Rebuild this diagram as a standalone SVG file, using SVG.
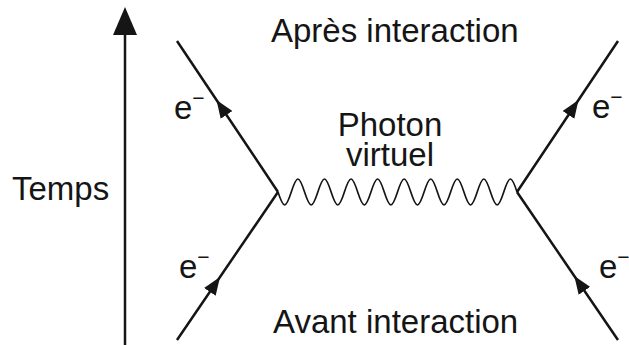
<svg xmlns="http://www.w3.org/2000/svg" width="629" height="345" viewBox="0 0 629 345">
<style>
  .t { font-family: "Liberation Sans", Arial, sans-serif; font-size: 33px; fill: #151515; }
  .e { font-family: "Liberation Sans", Arial, sans-serif; font-size: 33px; fill: #151515; }
  .fermion { fill: none; stroke: #151515; stroke-width: 2.5; marker-mid: url(#arr); }
  .wave { fill: none; stroke: #151515; stroke-width: 1.7; }
</style>
<defs>
  <marker id="arr" viewBox="0 0 18 14" refX="18" refY="7" markerWidth="18" markerHeight="14" markerUnits="userSpaceOnUse" orient="auto">
    <path d="M0,0 L18,7 L0,14 z" fill="#151515"/>
  </marker>
</defs>
<rect width="629" height="345" fill="#ffffff"/>

<g id="time-axis">
  <line x1="125" y1="345" x2="125" y2="32" stroke="#151515" stroke-width="2.5"/>
  <polygon points="125,7 113,35 137,35" fill="#151515"/>
  <text class="t" x="12" y="200">Temps</text>
</g>

<g id="connectors">
  <path id="e-in-left" class="fermion" d="M177,340 L220,277 L278,192"/>
  <path id="e-out-left" class="fermion" d="M278,192 L216.5,100 L177,41"/>
  <path id="e-in-right" class="fermion" d="M618,340 L574.3,276 L517,192"/>
  <path id="e-out-right" class="fermion" d="M517,192 L578.5,100 L618,41"/>
  <path id="photon" class="wave" d="M278,192 c5.64,17.33 7.64,17.33 13.28,0
    s7.64,-17.33 13.28,0 s7.64,17.33 13.28,0
    s7.64,-17.33 13.28,0 s7.64,17.33 13.28,0
    s7.64,-17.33 13.28,0 s7.64,17.33 13.28,0
    s7.64,-17.33 13.28,0 s7.64,17.33 13.28,0
    s7.64,-17.33 13.28,0 s7.64,17.33 13.28,0
    s7.64,-17.33 13.28,0 s7.64,17.33 13.28,0
    s7.64,-17.33 13.28,0 s7.64,17.33 13.28,0
    s7.64,-17.33 13.28,0 s7.64,17.33 13.28,0
    s7.64,-17.33 13.28,0"/>
</g>

<g id="label-apres"><text class="t" x="271" y="42">Après interaction</text></g>
<g id="label-avant"><text class="t" x="273" y="333">Avant interaction</text></g>
<g id="label-photon">
  <text class="t" x="390" y="136" text-anchor="middle">Photon</text>
  <text class="t" x="390" y="166" text-anchor="middle">virtuel</text>
</g>
<g id="label-e-out-left"><text class="e" x="174" y="119">e<tspan font-size="21" dy="-14">−</tspan></text></g>
<g id="label-e-in-left"><text class="e" x="179" y="278">e<tspan font-size="21" dy="-14">−</tspan></text></g>
<g id="label-e-out-right"><text class="e" x="592" y="118">e<tspan font-size="21" dy="-14">−</tspan></text></g>
<g id="label-e-in-right"><text class="e" x="599" y="278">e<tspan font-size="21" dy="-14">−</tspan></text></g>
</svg>
